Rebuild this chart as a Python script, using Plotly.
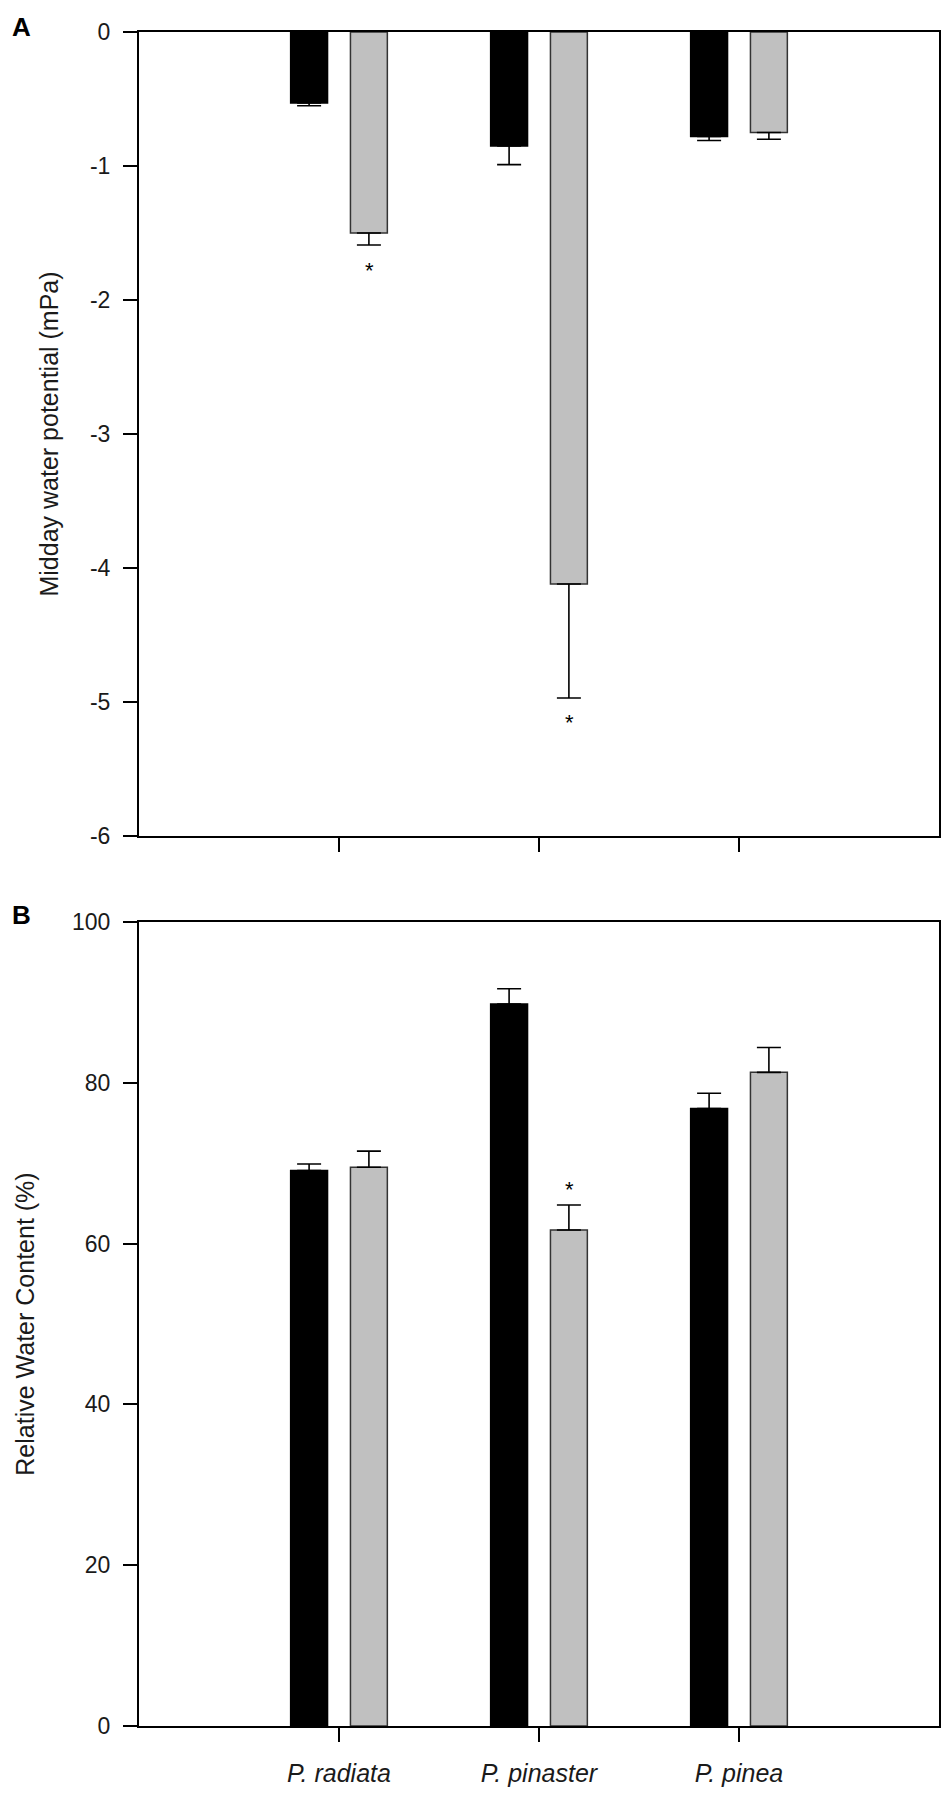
import plotly.graph_objects as go
from plotly.subplots import make_subplots

species = ['P. radiata', 'P. pinaster', 'P. pinea']

# panel A - midday water potential (mPa)
wp_black = [-0.53, -0.85, -0.78]
wp_black_err = [0.02, 0.14, 0.03]
wp_gray = [-1.50, -4.12, -0.75]
wp_gray_err = [0.09, 0.85, 0.05]
wp_signif = [True, True, False]
wp_ticks = [0, -1, -2, -3, -4, -5, -6]
wp_ticktext = ['0', '-1', '-2', '-3', '-4', '-5', '-6']

# panel B - relative water content (%)
rwc_black = [69.1, 89.8, 76.8]
rwc_black_err = [0.8, 1.9, 1.9]
rwc_gray = [69.5, 61.7, 81.3]
rwc_gray_err = [2.0, 3.1, 3.1]
rwc_signif = [False, True, False]
rwc_ticks = [0, 20, 40, 60, 80, 100]

FONT = 'Liberation Sans, Arial, sans-serif'
GRAY = '#c0c0c0'
EDGE = '#333333'
TXT = '#1a1a1a'

fig = make_subplots(rows=2, cols=1, vertical_spacing=0.0508)

idx = list(range(len(species)))


def add_pair(row, black, black_err, gray, gray_err, down):
    zeros = [0] * len(black)
    for vals, errs, color, edge in [(black, black_err, 'black', 'black'),
                                    (gray, gray_err, GRAY, EDGE)]:
        if down:
            err = dict(type='data', symmetric=False, array=zeros, arrayminus=errs,
                       color='black', thickness=1.6, width=12)
        else:
            err = dict(type='data', symmetric=False, array=errs, arrayminus=zeros,
                       color='black', thickness=1.6, width=12)
        fig.add_trace(go.Bar(
            x=idx, y=vals, error_y=err,
            marker=dict(color=color, line=dict(color=edge, width=1.5)),
            showlegend=False
        ), row=row, col=1)


add_pair(1, wp_black, wp_black_err, wp_gray, wp_gray_err, down=True)
add_pair(2, rwc_black, rwc_black_err, rwc_gray, rwc_gray_err, down=False)

# significance asterisks
for i, s in enumerate(wp_signif):
    if s:
        fig.add_annotation(x=i + 0.15, y=wp_gray[i] - wp_gray_err[i], xref='x', yref='y',
                           text='*', showarrow=False, yanchor='middle', yshift=-25,
                           font=dict(size=22, color='black', family=FONT))
for i, s in enumerate(rwc_signif):
    if s:
        fig.add_annotation(x=i + 0.15, y=rwc_gray[i] + rwc_gray_err[i], xref='x2', yref='y2',
                           text='*', showarrow=False, yanchor='middle', yshift=16,
                           font=dict(size=22, color='black', family=FONT))

fig.add_annotation(x=-0.147, y=1.003, xref='paper', yref='paper', text='<b>A</b>',
                   showarrow=False, xanchor='center', yanchor='middle',
                   font=dict(size=26, color='black', family=FONT))
fig.add_annotation(x=-0.147, y=0.4785, xref='paper', yref='paper', text='<b>B</b>',
                   showarrow=False, xanchor='center', yanchor='middle',
                   font=dict(size=26, color='black', family=FONT))

axis_style = dict(showline=True, linecolor='black', linewidth=2, mirror=True,
                  ticks='outside', ticklen=14, tickwidth=1.6, tickcolor='black',
                  showgrid=False, zeroline=False,
                  tickfont=dict(size=23, color=TXT, family=FONT))

fig.update_xaxes(axis_style)
fig.update_yaxes(axis_style)

fig.update_xaxes(range=[-1, 3], tickvals=idx, showticklabels=False, row=1, col=1)
fig.update_xaxes(range=[-1, 3], tickvals=idx,
                 ticktext=['<i>%s</i>' % s for s in species], ticklabelstandoff=10,
                 tickfont=dict(size=25, color=TXT, family=FONT), row=2, col=1)

fig.update_yaxes(range=[-6, 0], tickvals=wp_ticks, ticktext=wp_ticktext,
                 ticklabelstandoff=8,
                 title=dict(text='Midday water potential (mPa)', standoff=24,
                            font=dict(size=25, color=TXT, family=FONT)),
                 row=1, col=1)
fig.update_yaxes(range=[0, 100], tickvals=rwc_ticks, ticklabelstandoff=8,
                 title=dict(text='Relative Water Content (%)', standoff=30,
                            font=dict(size=25, color=TXT, family=FONT)),
                 row=2, col=1)

fig.update_layout(
    width=950, height=1798,
    margin=dict(l=139, r=9, t=32, b=72),
    barmode='group', bargap=0.402, bargroupgap=0.383,
    plot_bgcolor='white', paper_bgcolor='white',
    font=dict(family=FONT, color='black'),
)

fig.write_html('out.html', config={'displayModeBar': False},
               post_script="document.body.style.margin='0';document.body.style.overflow='hidden';")
